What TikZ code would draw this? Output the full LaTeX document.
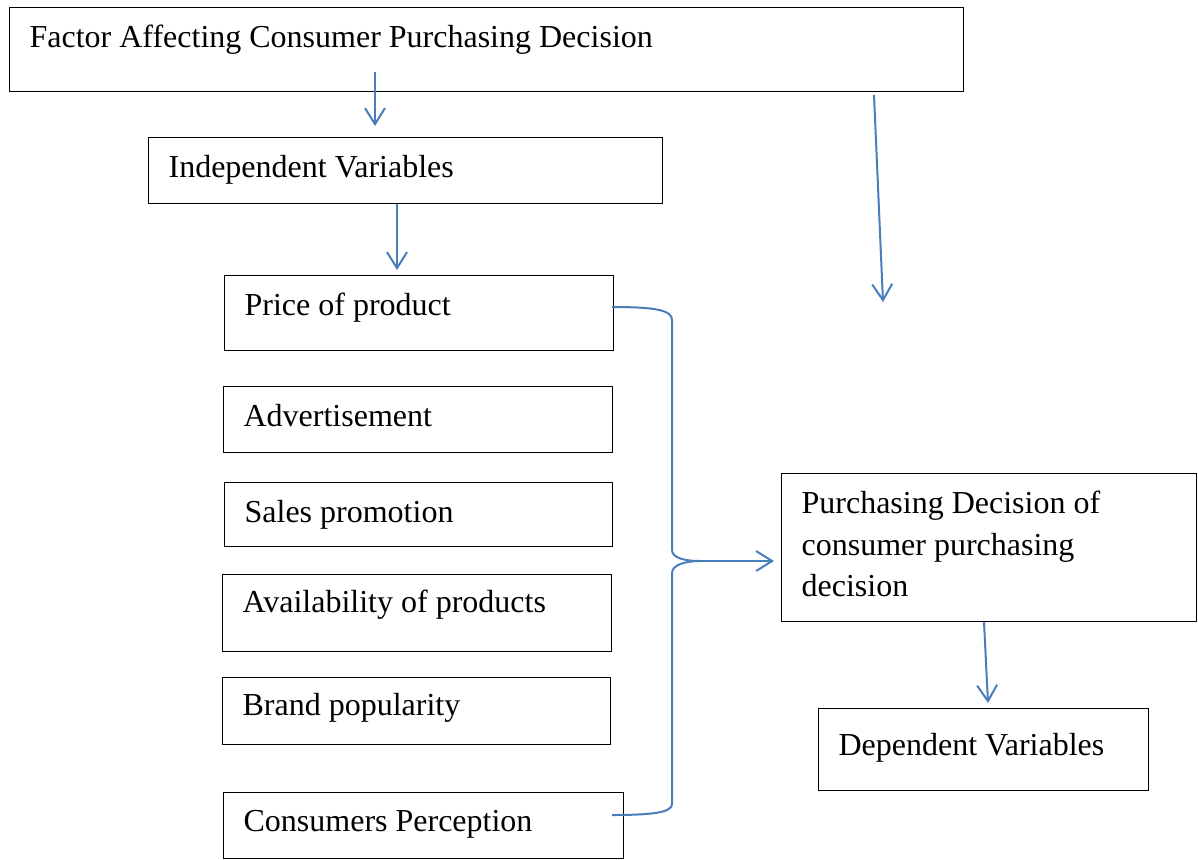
\documentclass[tikz,border=0pt]{standalone}
\usepackage{fontspec}
\setmainfont{Liberation Serif}
\usetikzlibrary{arrows.meta}
\definecolor{linkblue}{RGB}{74,126,187}

\begin{document}
\begin{tikzpicture}[
    x=0.5pt, y=-0.5pt,
    box/.style={rectangle, draw, line width=0.6pt, anchor=north west, align=flush left,
                inner xsep=10pt, inner ysep=0pt, text height=20pt,
                font=\fontsize{16}{20.75}\selectfont},
    lnk/.style={draw=linkblue, line width=1pt},
    arr/.style={lnk, -{Straight Barb[length=8pt, width=10pt]}}
]
\useasboundingbox (0,0) rectangle (1198,859);
% boxes
\node[box, text width=457pt, text depth=22pt] (factor) at (9,7) {Factor Affecting Consumer Purchasing Decision};
\node[box, text width=237pt, text depth=13pt] (indep) at (148,137) {Independent Variables};
\node[box, text width=174.5pt, text depth=17.5pt] (price) at (224,275) {Price of product};
\node[box, text width=174.5pt, text depth=13pt] (advert) at (223,386) {Advertisement};
\node[box, text width=174pt, text depth=12pt] (sales) at (224,482) {Sales promotion};
\node[box, text width=174.5pt, text height=19pt, text depth=19.5pt] (avail) at (222,574) {Availability of products};
\node[box, text width=174pt, text height=19pt, text depth=14.5pt] (brand) at (222,677) {Brand popularity};
\node[box, text width=180pt, text height=19.5pt, text depth=13.5pt] (percep) at (223,792) {Consumers Perception};
\node[box, text width=187.5pt, text depth=54pt] (decision) at (781,473) {Purchasing Decision of\\ consumer purchasing\\ decision};
\node[box, text width=145pt, text height=23.5pt, text depth=17.5pt] (dep) at (818,708) {Dependent Variables};
% free ends
\coordinate (f1s) at (375,72);
\coordinate (f1e) at (375,126);
\coordinate (f2e) at (397,270);
\coordinate (f3s) at (874,95);
\coordinate (f3e) at (883,302);
\coordinate (f4s) at (984,621);
\coordinate (f4e) at (988,703);
\coordinate (pb) at (612,307);
\coordinate (cb) at (612,815);
\coordinate (join) at (700,561);
\coordinate (tip) at (774,561);
% arrows
\draw[arr] (f1s) -- (f1e);
\draw[arr] (indep.south -| f2e) -- (f2e);
\draw[arr] (f3s) -- (f3e);
\draw[arr] (decision.south -| f4s) -- (f4e);
% brace
\draw[lnk] (pb) .. controls (655,307) and (672,310) .. (672,320) -- (672,550) .. controls (672,558) and (685,561) .. (join);
\draw[lnk] (cb) .. controls (655,815) and (672,812) .. (672,804) -- (672,573) .. controls (672,565) and (685,561) .. (join);
\draw[arr] (join) -- (tip);
\end{tikzpicture}
\end{document}
